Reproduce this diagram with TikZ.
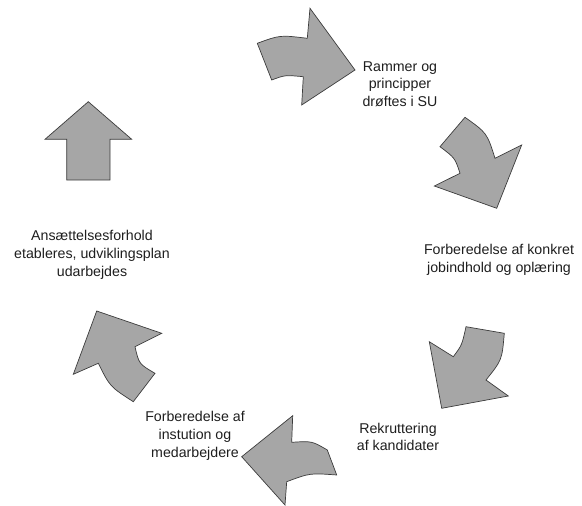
\documentclass[tikz,border=0pt]{standalone}
\usepackage{fontspec}
\setmainfont{Liberation Sans}
\usetikzlibrary{positioning}

\definecolor{arrowgray}{RGB}{166,166,166}
\definecolor{edgegray}{RGB}{60,60,60}
\definecolor{textgray}{RGB}{30,30,30}

\begin{document}
\begin{tikzpicture}[
  x=1pt, y=-1pt,
  bigarrow/.style={fill=arrowgray, draw=edgegray, line width=0.7pt, line join=miter},
  steptext/.style={align=center, text=textgray, inner sep=0pt,
    font=\fontsize{14.2}{17.7}\selectfont}
]
  \useasboundingbox (0,0) rectangle (582,506);

  % Cycle arrows, clockwise from the top
  \draw[bigarrow] (257.3,43.3) .. controls (280,35) .. (307.3,38.3)
    -- (310,8.3) -- (355,70) -- (301.7,105) -- (303.3,76.7)
    .. controls (285,75) .. (271.7,80) -- cycle;
  \draw[bigarrow] (465,117.3) .. controls (487,133) .. (495,158.3)
    -- (521.7,145) -- (496.7,208.3) -- (434.3,186) -- (460,173.3)
    .. controls (455,158) .. (440,146.7) -- cycle;
  \draw[bigarrow] (466,326.7) -- (504.3,333.3)
    .. controls (502,360) .. (486,380) -- (508.3,396) -- (441.7,408.3)
    -- (429.3,341.7) -- (453.3,356.7) .. controls (462,345) .. cycle;
  \draw[bigarrow] (241.7,456.7) -- (292.7,415.7) -- (291.7,442.3)
    .. controls (312,441) .. (327.3,450) -- (336.7,475)
    .. controls (310,473) .. (286.7,481.7) -- (285,505) -- cycle;
  \draw[bigarrow] (96.7,311) -- (161.7,333.3) -- (135,346.7)
    .. controls (139,364) .. (155,373.3) -- (133.3,401.7)
    .. controls (110,386.7) .. (98.3,363.3) -- (73.3,374.3) -- cycle;
  \draw[bigarrow] (88.3,101.7) -- (131.7,139.3) -- (110,139.3) -- (110,180)
    -- (66.7,180) -- (66.7,139.3) -- (45,139.3) -- cycle;

  % Step labels
  \node[steptext] (rammer)  at (400,84)  {Rammer og\\principper\\drøftes i SU};
  \node[steptext] (jobind)  at (499,260) {Forberedelse af konkret\\jobindhold og oplæring};
  \node[steptext] (rekrut)  at (398,437) {Rekruttering\\af kandidater};
  \node[steptext] (instit)  at (195,436) {Forberedelse af\\instution og\\medarbejdere};
  \node[steptext] (ansaet)  at (92,255)  {Ansættelsesforhold\\etableres, udviklingsplan\\udarbejdes};

\end{tikzpicture}
\end{document}
